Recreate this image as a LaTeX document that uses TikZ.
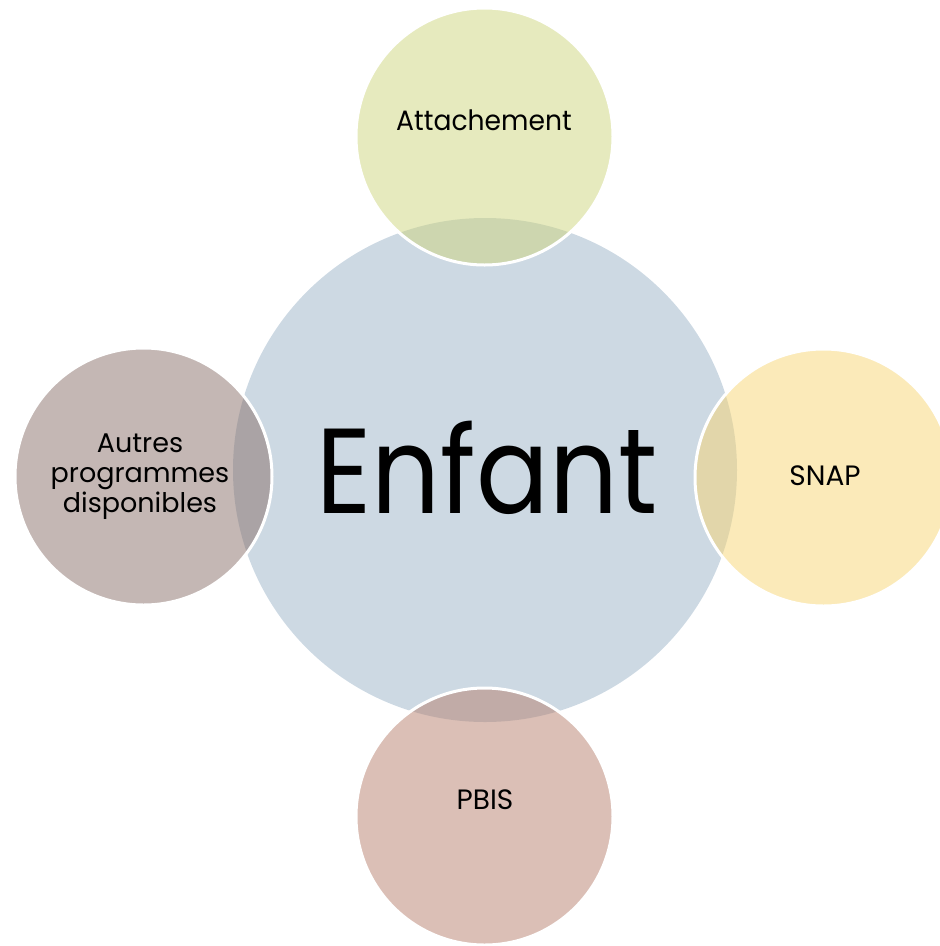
\documentclass[tikz,border=0pt]{standalone}
\usepackage{fontspec}
\setmainfont{Poppins}
\definecolor{cBlue}{RGB}{205,217,227}
\definecolor{cTop}{RGB}{205,213,125}
\definecolor{cRight}{RGB}{247,213,115}
\definecolor{cLeft}{RGB}{137,111,105}
\definecolor{cBottom}{RGB}{183,127,109}
\tikzset{
  bubble/.style={circle, minimum size=257pt, inner sep=0pt, draw=white, line width=3pt, fill opacity=0.5, draw opacity=1},
  hub/.style={circle, minimum size=504pt, inner sep=0pt, fill=cBlue},
  lbl/.style={inner sep=0pt, align=center, text=black, font=\fontsize{28}{30}\selectfont},
}
\begin{document}
\begin{tikzpicture}[x=1pt,y=-1pt]
\useasboundingbox (0,0) rectangle (940,946);
\node[hub] (enfant) at (485,470) {};
\node[bubble, fill=cTop] (att) at (484.5,136.5) {};
\node[bubble, fill=cRight] (snap) at (823.5,477.5) {};
\node[bubble, fill=cBottom] (pbis) at (484.5,816.5) {};
\node[bubble, fill=cLeft] (autres) at (143.5,476.5) {};
\node[inner sep=0pt, font=\fontsize{121}{121}\selectfont] (tenfant) at (487,468) {\scalebox{0.89}[1]{Enfant}};
\node[lbl] (tatt) at (484,120) {\scalebox{0.95}[1]{Attachement}};
\node[lbl] (tsnap) at (825,476) {SNAP};
\node[lbl] (tpbis) at (485,800) {PBIS};
\node[lbl, font=\fontsize{27}{30}\selectfont] (tautres) at (140,476) {\begin{tabular}{@{}c@{}}Autres\\programmes\\disponibles\end{tabular}};
\end{tikzpicture}
\end{document}
